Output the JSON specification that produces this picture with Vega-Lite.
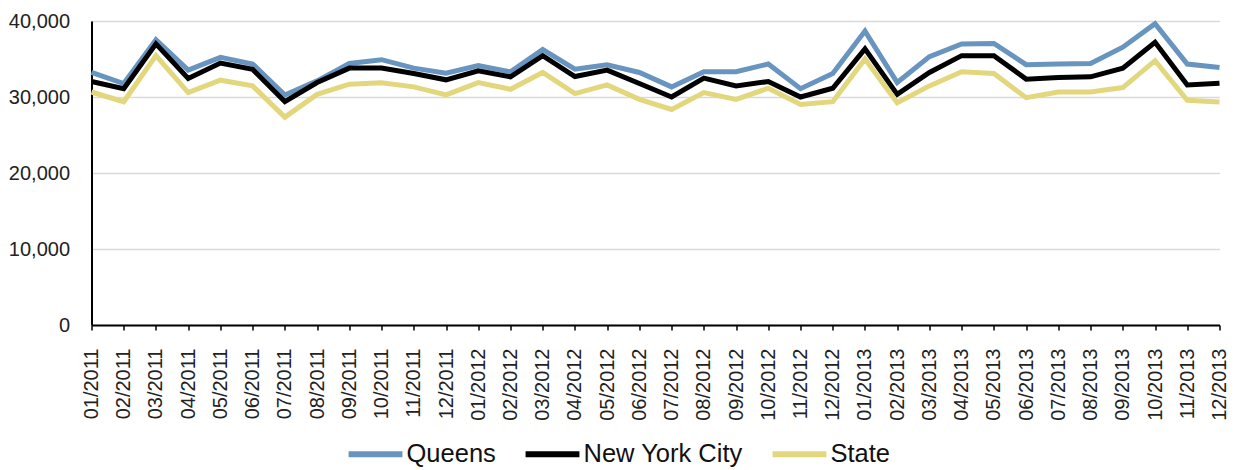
{
  "$schema": "https://vega.github.io/schema/vega-lite/v6.json",
  "width": 1128,
  "height": 304,
  "autosize": {"type": "none"},
  "padding": {"left": 91.5, "top": 21, "right": 18.5, "bottom": 145},
  "background": "white",
  "config": {"view": {"stroke": null}},
  "datasets": {
    "rows": [
      {"month": "01/2011", "series": "Queens", "value": 33230},
      {"month": "02/2011", "series": "Queens", "value": 31770},
      {"month": "03/2011", "series": "Queens", "value": 37520},
      {"month": "04/2011", "series": "Queens", "value": 33540},
      {"month": "05/2011", "series": "Queens", "value": 35220},
      {"month": "06/2011", "series": "Queens", "value": 34340},
      {"month": "07/2011", "series": "Queens", "value": 30270},
      {"month": "08/2011", "series": "Queens", "value": 32120},
      {"month": "09/2011", "series": "Queens", "value": 34420},
      {"month": "10/2011", "series": "Queens", "value": 34910},
      {"month": "11/2011", "series": "Queens", "value": 33800},
      {"month": "12/2011", "series": "Queens", "value": 33140},
      {"month": "01/2012", "series": "Queens", "value": 34150},
      {"month": "02/2012", "series": "Queens", "value": 33320},
      {"month": "03/2012", "series": "Queens", "value": 36240},
      {"month": "04/2012", "series": "Queens", "value": 33670},
      {"month": "05/2012", "series": "Queens", "value": 34250},
      {"month": "06/2012", "series": "Queens", "value": 33230},
      {"month": "07/2012", "series": "Queens", "value": 31330},
      {"month": "08/2012", "series": "Queens", "value": 33320},
      {"month": "09/2012", "series": "Queens", "value": 33320},
      {"month": "10/2012", "series": "Queens", "value": 34340},
      {"month": "11/2012", "series": "Queens", "value": 31100},
      {"month": "12/2012", "series": "Queens", "value": 33100},
      {"month": "01/2013", "series": "Queens", "value": 38670},
      {"month": "02/2013", "series": "Queens", "value": 31900},
      {"month": "03/2013", "series": "Queens", "value": 35310},
      {"month": "04/2013", "series": "Queens", "value": 36990},
      {"month": "05/2013", "series": "Queens", "value": 37050},
      {"month": "06/2013", "series": "Queens", "value": 34250},
      {"month": "07/2013", "series": "Queens", "value": 34340},
      {"month": "08/2013", "series": "Queens", "value": 34420},
      {"month": "09/2013", "series": "Queens", "value": 36550},
      {"month": "10/2013", "series": "Queens", "value": 39650},
      {"month": "11/2013", "series": "Queens", "value": 34340},
      {"month": "12/2013", "series": "Queens", "value": 33890},
      {"month": "01/2011", "series": "New York City", "value": 32040},
      {"month": "02/2011", "series": "New York City", "value": 31100},
      {"month": "03/2011", "series": "New York City", "value": 36990},
      {"month": "04/2011", "series": "New York City", "value": 32430},
      {"month": "05/2011", "series": "New York City", "value": 34470},
      {"month": "06/2011", "series": "New York City", "value": 33630},
      {"month": "07/2011", "series": "New York City", "value": 29380},
      {"month": "08/2011", "series": "New York City", "value": 31900},
      {"month": "09/2011", "series": "New York City", "value": 33800},
      {"month": "10/2011", "series": "New York City", "value": 33800},
      {"month": "11/2011", "series": "New York City", "value": 33100},
      {"month": "12/2011", "series": "New York City", "value": 32260},
      {"month": "01/2012", "series": "New York City", "value": 33450},
      {"month": "02/2012", "series": "New York City", "value": 32650},
      {"month": "03/2012", "series": "New York City", "value": 35440},
      {"month": "04/2012", "series": "New York City", "value": 32700},
      {"month": "05/2012", "series": "New York City", "value": 33540},
      {"month": "06/2012", "series": "New York City", "value": 31770},
      {"month": "07/2012", "series": "New York City", "value": 30000},
      {"month": "08/2012", "series": "New York City", "value": 32480},
      {"month": "09/2012", "series": "New York City", "value": 31460},
      {"month": "10/2012", "series": "New York City", "value": 32040},
      {"month": "11/2012", "series": "New York City", "value": 30000},
      {"month": "12/2012", "series": "New York City", "value": 31150},
      {"month": "01/2013", "series": "New York City", "value": 36330},
      {"month": "02/2013", "series": "New York City", "value": 30350},
      {"month": "03/2013", "series": "New York City", "value": 33230},
      {"month": "04/2013", "series": "New York City", "value": 35440},
      {"month": "05/2013", "series": "New York City", "value": 35440},
      {"month": "06/2013", "series": "New York City", "value": 32350},
      {"month": "07/2013", "series": "New York City", "value": 32570},
      {"month": "08/2013", "series": "New York City", "value": 32650},
      {"month": "09/2013", "series": "New York City", "value": 33800},
      {"month": "10/2013", "series": "New York City", "value": 37210},
      {"month": "11/2013", "series": "New York City", "value": 31590},
      {"month": "12/2013", "series": "New York City", "value": 31810},
      {"month": "01/2011", "series": "State", "value": 30660},
      {"month": "02/2011", "series": "State", "value": 29380},
      {"month": "03/2011", "series": "State", "value": 35440},
      {"month": "04/2011", "series": "State", "value": 30580},
      {"month": "05/2011", "series": "State", "value": 32210},
      {"month": "06/2011", "series": "State", "value": 31460},
      {"month": "07/2011", "series": "State", "value": 27350},
      {"month": "08/2011", "series": "State", "value": 30350},
      {"month": "09/2011", "series": "State", "value": 31680},
      {"month": "10/2011", "series": "State", "value": 31860},
      {"month": "11/2011", "series": "State", "value": 31330},
      {"month": "12/2011", "series": "State", "value": 30270},
      {"month": "01/2012", "series": "State", "value": 31900},
      {"month": "02/2012", "series": "State", "value": 31020},
      {"month": "03/2012", "series": "State", "value": 33230},
      {"month": "04/2012", "series": "State", "value": 30440},
      {"month": "05/2012", "series": "State", "value": 31590},
      {"month": "06/2012", "series": "State", "value": 29690},
      {"month": "07/2012", "series": "State", "value": 28360},
      {"month": "08/2012", "series": "State", "value": 30580},
      {"month": "09/2012", "series": "State", "value": 29690},
      {"month": "10/2012", "series": "State", "value": 31150},
      {"month": "11/2012", "series": "State", "value": 29030},
      {"month": "12/2012", "series": "State", "value": 29380},
      {"month": "01/2013", "series": "State", "value": 35000},
      {"month": "02/2013", "series": "State", "value": 29250},
      {"month": "03/2013", "series": "State", "value": 31460},
      {"month": "04/2013", "series": "State", "value": 33320},
      {"month": "05/2013", "series": "State", "value": 33100},
      {"month": "06/2013", "series": "State", "value": 29910},
      {"month": "07/2013", "series": "State", "value": 30660},
      {"month": "08/2013", "series": "State", "value": 30660},
      {"month": "09/2013", "series": "State", "value": 31240},
      {"month": "10/2013", "series": "State", "value": 34780},
      {"month": "11/2013", "series": "State", "value": 29560},
      {"month": "12/2013", "series": "State", "value": 29340}
    ]
  },
  "data": {"name": "rows"},
  "mark": {"type": "line", "strokeWidth": 5},
  "encoding": {
    "x": {
      "field": "month",
      "type": "ordinal",
      "sort": null,
      "scale": {"type": "point", "padding": 0},
      "axis": {
        "title": null,
        "labelAngle": -90,
        "labelFont": "Liberation Sans",
        "labelFontSize": 20,
        "labelColor": "#222222",
        "labelPadding": 18,
        "domainColor": "#000000",
        "domainWidth": 2,
        "tickColor": "#000000",
        "tickWidth": 1.5,
        "tickSize": 5,
        "grid": false
      }
    },
    "y": {
      "field": "value",
      "type": "quantitative",
      "scale": {"domain": [0, 40000]},
      "axis": {
        "title": null,
        "values": [0, 10000, 20000, 30000, 40000],
        "format": ",.0f",
        "ticks": false,
        "labelPadding": 22,
        "labelFont": "Liberation Sans",
        "labelFontSize": 20,
        "labelColor": "#222222",
        "gridColor": "#d9d9d9",
        "gridWidth": 1.5,
        "domainColor": "#000000",
        "domainWidth": 2
      }
    },
    "color": {
      "field": "series",
      "type": "nominal",
      "scale": {
        "domain": ["Queens", "New York City", "State"],
        "range": ["#6795c0", "#000000", "#e3d77e"]
      },
      "legend": {
        "title": null,
        "orient": "none",
        "direction": "horizontal",
        "legendX": 254,
        "legendY": 403,
        "symbolType": "stroke",
        "symbolSize": 2900,
        "symbolStrokeWidth": 6,
        "labelFont": "Liberation Sans",
        "labelFontSize": 25.5,
        "labelLimit": 400,
        "labelColor": "#111111",
        "labelOffset": 1,
        "columnPadding": 17
      }
    }
  }
}
